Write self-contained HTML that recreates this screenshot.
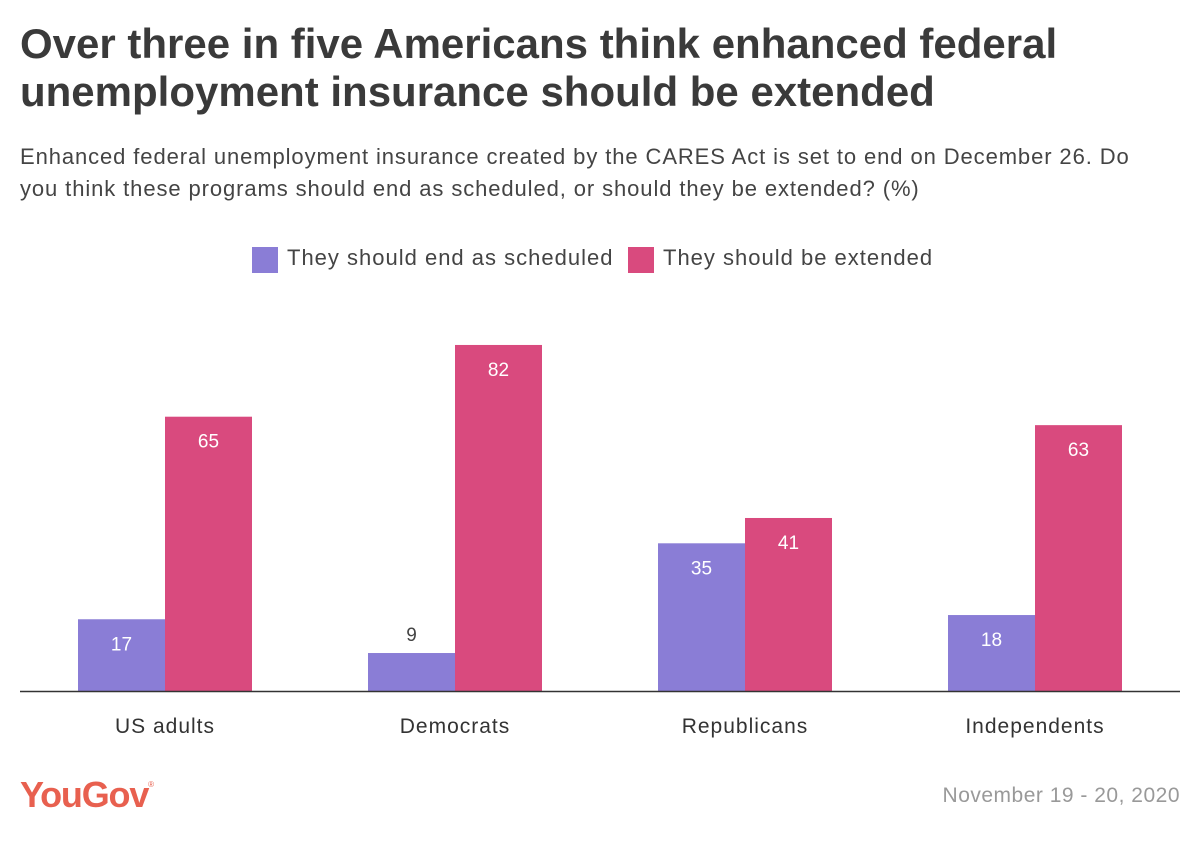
<!DOCTYPE html>
<html><head><meta charset="utf-8"><style>
body{margin:0;background:#fff;font-family:"Liberation Sans",sans-serif;}
#wrap{position:relative;width:1200px;height:848px;overflow:hidden;background:#fff;}
.t{position:absolute;white-space:nowrap;}
</style></head><body>
<div id="wrap">
<div class="t" style="left:20px;top:20px;font-size:42px;font-weight:bold;color:#3a3a3a;line-height:48px;letter-spacing:0px">Over three in five Americans think enhanced federal<br>unemployment insurance should be extended</div>
<div class="t" style="left:20px;top:141px;font-size:22px;color:#444;line-height:32px;letter-spacing:0.9px">Enhanced federal unemployment insurance created by the CARES Act is set to end on December 26. Do<br>you think these programs should end as scheduled, or should they be extended? (%)</div>
<div style="position:absolute;left:252px;top:247px;width:26px;height:26px;background:#8a7dd6"></div>
<div class="t" style="left:287px;top:245px;font-size:22px;color:#444;letter-spacing:1px">They should end as scheduled</div>
<div style="position:absolute;left:628px;top:247px;width:26px;height:26px;background:#d94a7e"></div>
<div class="t" style="left:663px;top:245px;font-size:22px;color:#444;letter-spacing:1px">They should be extended</div>
<svg id="plot" width="1200" height="848" style="position:absolute;left:0;top:0"></svg>
<div class="t" style="left:20px;top:774px;font-size:36px;font-weight:bold;color:#e8604f;letter-spacing:-1.2px">YouGov<sup style="font-size:8px;font-weight:normal;vertical-align:top;position:relative;top:6px">®</sup></div>
<div class="t" style="right:20px;top:784px;font-size:21px;color:#999;letter-spacing:0.5px">November 19 - 20, 2020</div>
</div>
<script>
const categories=["US adults","Democrats","Republicans","Independents"];
const endValues=[17,9,35,18];
const extendValues=[65,82,41,63];
const NS="http://www.w3.org/2000/svg";
const svg=document.getElementById('plot');
const base=691, scale=4.22, bw=87, firstC=165, step=290;
function y(v){return base-v*scale;}
function cx(i){return firstC+i*step;}
function mk(tag,attrs){const e=document.createElementNS(NS,tag);for(const k in attrs)e.setAttribute(k,attrs[k]);svg.appendChild(e);return e;}
categories.forEach((c,i)=>{
  const r1=mk('rect',{x:cx(i)-bw,y:y(endValues[i]),width:bw,height:endValues[i]*scale,fill:'#8a7dd6'});
  
  
  const r2=mk('rect',{x:cx(i),y:y(extendValues[i]),width:bw,height:extendValues[i]*scale,fill:'#d94a7e'});
  
  
  const inside1=endValues[i]*scale>40;
  const t1=mk('text',{x:cx(i)-bw/2,y:inside1?y(endValues[i])+31:y(endValues[i])-12,'text-anchor':'middle','font-size':19,fill:inside1?'#fff':'#444','font-family':'Liberation Sans, sans-serif'});
  t1.textContent=endValues[i];
  
  
  const t2=mk('text',{x:cx(i)+bw/2,y:y(extendValues[i])+31,'text-anchor':'middle','font-size':19,fill:'#fff','font-family':'Liberation Sans, sans-serif'});
  t2.textContent=extendValues[i];
  
  
  const t3=mk('text',{x:cx(i),y:733,'text-anchor':'middle','font-size':21,fill:'#333','letter-spacing':1,'font-family':'Liberation Sans, sans-serif'});
  t3.textContent=c;
  
  
});
const ax=mk('line',{x1:20,x2:1180,y1:base+0.5,y2:base+0.5,stroke:'#333','stroke-width':1.5});


</script>
</body></html>
